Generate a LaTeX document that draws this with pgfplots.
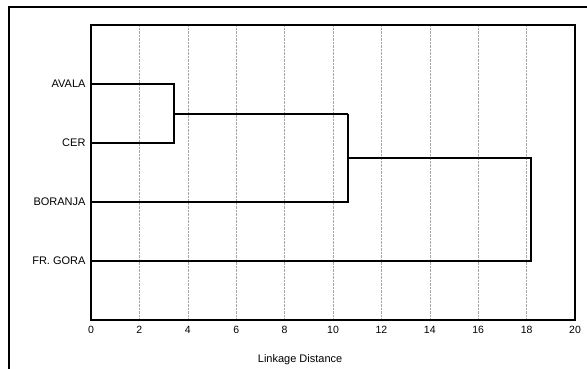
\documentclass[border=0pt]{standalone}
\usepackage{fontspec}
\setmainfont{Liberation Sans}
\usepackage{pgfplots}
\pgfplotsset{compat=1.18}
\begin{document}
\begin{tikzpicture}[x=1pt,y=1pt]
\path[use as bounding box] (0,0) rectangle (587,369);
\draw[line width=1.4pt] (9,0) -- (9,362) -- (587,362);
\begin{axis}[
  at={(91pt,49pt)}, anchor=south west,
  scale only axis, width=484pt, height=295pt,
  xmin=0, xmax=20, ymin=0, ymax=5, y dir=reverse,
  xtick={0,2,...,20},
  ytick={1,2,3,4},
  yticklabels={AVALA,CER,BORANJA,FR. GORA},
  /pgf/number format/assume math mode=true,
  xticklabel style={font=\fontsize{10.5}{12}\selectfont, yshift=-3pt},
  yticklabel style={font=\fontsize{11}{12}\selectfont, xshift=-2pt},
  xlabel={Linkage Distance},
  xlabel style={font=\fontsize{11}{12}\selectfont, at={(axis description cs:0.432,0)}, anchor=north, yshift=-31pt},
  axis line style={line width=1.6pt},
  major tick length=0pt,
  xmajorgrids,
  grid style={gray!70, densely dotted, line width=0.6pt},
]
\addplot[black, line width=2pt, no markers] coordinates {(0,1) (3.43,1) (3.43,2) (0,2)};
\addplot[black, line width=2pt, no markers] coordinates {(3.43,1.5) (10.6,1.5)};
\addplot[black, line width=2pt, no markers] coordinates {(10.6,1.5) (10.6,3) (0,3)};
\addplot[black, line width=2pt, no markers] coordinates {(10.6,2.25) (18.2,2.25) (18.2,4) (0,4)};
\end{axis}
\end{tikzpicture}
\end{document}
